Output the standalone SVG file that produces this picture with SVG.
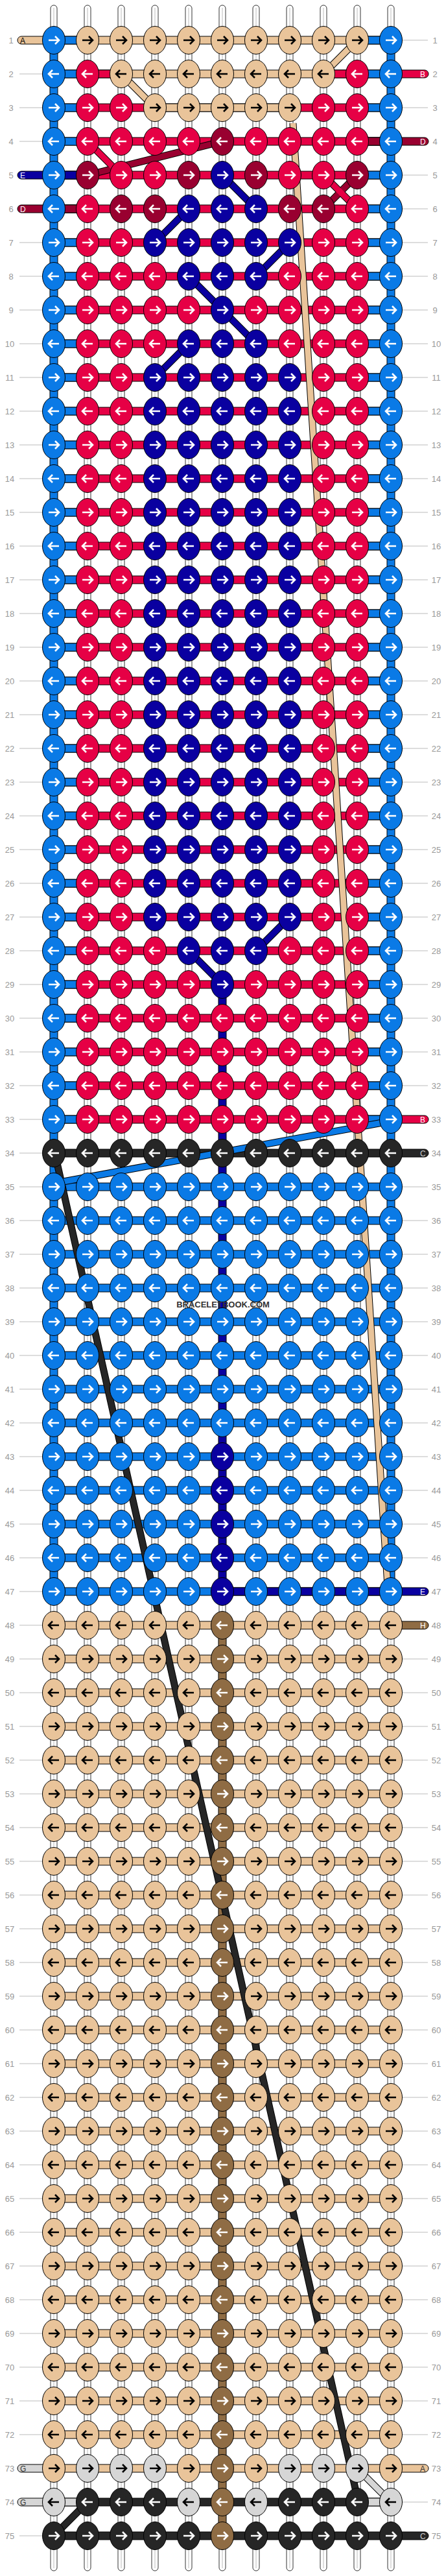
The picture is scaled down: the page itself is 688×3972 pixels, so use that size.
<svg xmlns="http://www.w3.org/2000/svg" xmlns:xlink="http://www.w3.org/1999/xlink" width="688" height="3972" viewBox="0 0 688 3972">
<style>
ellipse{stroke:#000;stroke-width:1}
.bar{stroke:#000;stroke-width:1}
.str{fill:#fff;stroke:#000;stroke-width:.8}
.sl{stroke:#bbb;stroke-width:1}
.num{font-family:"Liberation Sans",Arial,sans-serif;font-size:13px;fill:#999;text-anchor:middle}
.rl{stroke:#bbb;stroke-width:1}
.lt{font-family:"Liberation Sans",Arial,sans-serif;font-size:12px}
.d{fill:none;stroke-linecap:butt}
</style>
<defs>
<path id="ar" d="M-8,0H7M2,-6L8,0L2,6" fill="none" stroke-width="2.6"/>
<path id="al" d="M8,0H-7M-2,-6L-8,0L-2,6" fill="none" stroke-width="2.6"/>
<g id="Br"><ellipse rx="17.5" ry="21.5" fill="#0a7ae6"/><use href="#ar" stroke="#fff"/></g>
<g id="Bl"><ellipse rx="17.5" ry="21.5" fill="#0a7ae6"/><use href="#al" stroke="#fff"/></g>
<g id="Tr"><ellipse rx="17.5" ry="21.5" fill="#e9c49a"/><use href="#ar" stroke="#000"/></g>
<g id="Tl"><ellipse rx="17.5" ry="21.5" fill="#e9c49a"/><use href="#al" stroke="#000"/></g>
<g id="Rr"><ellipse rx="17.5" ry="21.5" fill="#e60045"/><use href="#ar" stroke="#fff"/></g>
<g id="Rl"><ellipse rx="17.5" ry="21.5" fill="#e60045"/><use href="#al" stroke="#fff"/></g>
<g id="Mr"><ellipse rx="17.5" ry="21.5" fill="#990030"/><use href="#ar" stroke="#fff"/></g>
<g id="Ml"><ellipse rx="17.5" ry="21.5" fill="#990030"/><use href="#al" stroke="#fff"/></g>
<g id="Nr"><ellipse rx="17.5" ry="21.5" fill="#0a00a0"/><use href="#ar" stroke="#fff"/></g>
<g id="Nl"><ellipse rx="17.5" ry="21.5" fill="#0a00a0"/><use href="#al" stroke="#fff"/></g>
<g id="Kr"><ellipse rx="17.5" ry="21.5" fill="#262626"/><use href="#ar" stroke="#fff"/></g>
<g id="Kl"><ellipse rx="17.5" ry="21.5" fill="#262626"/><use href="#al" stroke="#fff"/></g>
<g id="Wr"><ellipse rx="17.5" ry="21.5" fill="#8f6c44"/><use href="#ar" stroke="#fff"/></g>
<g id="Wl"><ellipse rx="17.5" ry="21.5" fill="#8f6c44"/><use href="#al" stroke="#fff"/></g>
<g id="Gr"><ellipse rx="17.5" ry="21.5" fill="#d6d6d6"/><use href="#ar" stroke="#000"/></g>
<g id="Gl"><ellipse rx="17.5" ry="21.5" fill="#d6d6d6"/><use href="#al" stroke="#000"/></g>

<g id="o1"><use href="#Br" x="83"/><use href="#Tr" x="135"/><use href="#Tr" x="187"/><use href="#Tr" x="239"/><use href="#Tr" x="291"/><use href="#Tr" x="343"/><use href="#Tr" x="395"/><use href="#Tr" x="447"/><use href="#Tr" x="499"/><use href="#Tr" x="551"/><use href="#Br" x="603"/></g>
<g id="e2"><use href="#Bl" x="83"/><use href="#Rl" x="135"/><use href="#Tl" x="187"/><use href="#Tl" x="239"/><use href="#Tl" x="291"/><use href="#Tl" x="343"/><use href="#Tl" x="395"/><use href="#Tl" x="447"/><use href="#Tl" x="499"/><use href="#Rl" x="551"/><use href="#Bl" x="603"/></g>
<g id="o3"><use href="#Br" x="83"/><use href="#Rr" x="135"/><use href="#Rr" x="187"/><use href="#Tr" x="239"/><use href="#Tr" x="291"/><use href="#Tr" x="343"/><use href="#Tr" x="395"/><use href="#Tr" x="447"/><use href="#Rr" x="499"/><use href="#Rr" x="551"/><use href="#Br" x="603"/></g>
<g id="e4"><use href="#Bl" x="83"/><use href="#Rl" x="135"/><use href="#Rl" x="187"/><use href="#Rl" x="239"/><use href="#Rl" x="291"/><use href="#Ml" x="343"/><use href="#Rl" x="395"/><use href="#Rl" x="447"/><use href="#Rl" x="499"/><use href="#Rl" x="551"/><use href="#Bl" x="603"/></g>
<g id="o5"><use href="#Br" x="83"/><use href="#Mr" x="135"/><use href="#Rr" x="187"/><use href="#Rr" x="239"/><use href="#Mr" x="291"/><use href="#Nr" x="343"/><use href="#Mr" x="395"/><use href="#Rr" x="447"/><use href="#Rr" x="499"/><use href="#Mr" x="551"/><use href="#Br" x="603"/></g>
<g id="e6"><use href="#Bl" x="83"/><use href="#Rl" x="135"/><use href="#Ml" x="187"/><use href="#Ml" x="239"/><use href="#Nl" x="291"/><use href="#Nl" x="343"/><use href="#Nl" x="395"/><use href="#Ml" x="447"/><use href="#Ml" x="499"/><use href="#Rl" x="551"/><use href="#Bl" x="603"/></g>
<g id="P1r"><use href="#Br" x="83"/><use href="#Rr" x="135"/><use href="#Rr" x="187"/><use href="#Nr" x="239"/><use href="#Nr" x="291"/><use href="#Nr" x="343"/><use href="#Nr" x="395"/><use href="#Nr" x="447"/><use href="#Rr" x="499"/><use href="#Rr" x="551"/><use href="#Br" x="603"/></g>
<g id="P1l"><use href="#Bl" x="83"/><use href="#Rl" x="135"/><use href="#Rl" x="187"/><use href="#Nl" x="239"/><use href="#Nl" x="291"/><use href="#Nl" x="343"/><use href="#Nl" x="395"/><use href="#Nl" x="447"/><use href="#Rl" x="499"/><use href="#Rl" x="551"/><use href="#Bl" x="603"/></g>
<g id="P2l"><use href="#Bl" x="83"/><use href="#Rl" x="135"/><use href="#Rl" x="187"/><use href="#Rl" x="239"/><use href="#Nl" x="291"/><use href="#Nl" x="343"/><use href="#Nl" x="395"/><use href="#Rl" x="447"/><use href="#Rl" x="499"/><use href="#Rl" x="551"/><use href="#Bl" x="603"/></g>
<g id="P3r"><use href="#Br" x="83"/><use href="#Rr" x="135"/><use href="#Rr" x="187"/><use href="#Rr" x="239"/><use href="#Rr" x="291"/><use href="#Nr" x="343"/><use href="#Rr" x="395"/><use href="#Rr" x="447"/><use href="#Rr" x="499"/><use href="#Rr" x="551"/><use href="#Br" x="603"/></g>
<g id="RRr"><use href="#Br" x="83"/><use href="#Rr" x="135"/><use href="#Rr" x="187"/><use href="#Rr" x="239"/><use href="#Rr" x="291"/><use href="#Rr" x="343"/><use href="#Rr" x="395"/><use href="#Rr" x="447"/><use href="#Rr" x="499"/><use href="#Rr" x="551"/><use href="#Br" x="603"/></g>
<g id="RRl"><use href="#Bl" x="83"/><use href="#Rl" x="135"/><use href="#Rl" x="187"/><use href="#Rl" x="239"/><use href="#Rl" x="291"/><use href="#Rl" x="343"/><use href="#Rl" x="395"/><use href="#Rl" x="447"/><use href="#Rl" x="499"/><use href="#Rl" x="551"/><use href="#Bl" x="603"/></g>
<g id="KKl"><use href="#Kl" x="83"/><use href="#Kl" x="135"/><use href="#Kl" x="187"/><use href="#Kl" x="239"/><use href="#Kl" x="291"/><use href="#Kl" x="343"/><use href="#Kl" x="395"/><use href="#Kl" x="447"/><use href="#Kl" x="499"/><use href="#Kl" x="551"/><use href="#Kl" x="603"/></g>
<g id="BBr"><use href="#Br" x="83"/><use href="#Br" x="135"/><use href="#Br" x="187"/><use href="#Br" x="239"/><use href="#Br" x="291"/><use href="#Br" x="343"/><use href="#Br" x="395"/><use href="#Br" x="447"/><use href="#Br" x="499"/><use href="#Br" x="551"/><use href="#Br" x="603"/></g>
<g id="BBl"><use href="#Bl" x="83"/><use href="#Bl" x="135"/><use href="#Bl" x="187"/><use href="#Bl" x="239"/><use href="#Bl" x="291"/><use href="#Bl" x="343"/><use href="#Bl" x="395"/><use href="#Bl" x="447"/><use href="#Bl" x="499"/><use href="#Bl" x="551"/><use href="#Bl" x="603"/></g>
<g id="BNr"><use href="#Br" x="83"/><use href="#Br" x="135"/><use href="#Br" x="187"/><use href="#Br" x="239"/><use href="#Br" x="291"/><use href="#Nr" x="343"/><use href="#Br" x="395"/><use href="#Br" x="447"/><use href="#Br" x="499"/><use href="#Br" x="551"/><use href="#Br" x="603"/></g>
<g id="BNl"><use href="#Bl" x="83"/><use href="#Bl" x="135"/><use href="#Bl" x="187"/><use href="#Bl" x="239"/><use href="#Bl" x="291"/><use href="#Nl" x="343"/><use href="#Bl" x="395"/><use href="#Bl" x="447"/><use href="#Bl" x="499"/><use href="#Bl" x="551"/><use href="#Bl" x="603"/></g>
<g id="TWr"><use href="#Tr" x="83"/><use href="#Tr" x="135"/><use href="#Tr" x="187"/><use href="#Tr" x="239"/><use href="#Tr" x="291"/><use href="#Wr" x="343"/><use href="#Tr" x="395"/><use href="#Tr" x="447"/><use href="#Tr" x="499"/><use href="#Tr" x="551"/><use href="#Tr" x="603"/></g>
<g id="TWl"><use href="#Tl" x="83"/><use href="#Tl" x="135"/><use href="#Tl" x="187"/><use href="#Tl" x="239"/><use href="#Tl" x="291"/><use href="#Wl" x="343"/><use href="#Tl" x="395"/><use href="#Tl" x="447"/><use href="#Tl" x="499"/><use href="#Tl" x="551"/><use href="#Tl" x="603"/></g>
<g id="o73"><use href="#Tr" x="83"/><use href="#Gr" x="135"/><use href="#Gr" x="187"/><use href="#Gr" x="239"/><use href="#Tr" x="291"/><use href="#Wr" x="343"/><use href="#Tr" x="395"/><use href="#Gr" x="447"/><use href="#Gr" x="499"/><use href="#Gr" x="551"/><use href="#Tr" x="603"/></g>
<g id="e74"><use href="#Gl" x="83"/><use href="#Kl" x="135"/><use href="#Kl" x="187"/><use href="#Kl" x="239"/><use href="#Gl" x="291"/><use href="#Wl" x="343"/><use href="#Gl" x="395"/><use href="#Kl" x="447"/><use href="#Kl" x="499"/><use href="#Kl" x="551"/><use href="#Gl" x="603"/></g>
<g id="o75"><use href="#Kr" x="83"/><use href="#Kr" x="135"/><use href="#Kr" x="187"/><use href="#Kr" x="239"/><use href="#Kr" x="291"/><use href="#Wr" x="343"/><use href="#Kr" x="395"/><use href="#Kr" x="447"/><use href="#Kr" x="499"/><use href="#Kr" x="551"/><use href="#Kr" x="603"/></g>

<g id="bTB"><rect class="bar" x="83" y="-6" width="520" height="12" fill="#e9c49a"/><rect class="bar" x="83" y="-6" width="52" height="12" fill="#0a7ae6"/><rect class="bar" x="551" y="-6" width="52" height="12" fill="#0a7ae6"/></g>
<g id="bRB"><rect class="bar" x="83" y="-6" width="520" height="12" fill="#e60045"/><rect class="bar" x="83" y="-6" width="52" height="12" fill="#0a7ae6"/><rect class="bar" x="551" y="-6" width="52" height="12" fill="#0a7ae6"/></g>
<rect id="bK" class="bar" x="83" y="-6" width="520" height="12" fill="#262626"/>
<rect id="bB" class="bar" x="83" y="-6" width="520" height="12" fill="#0a7ae6"/>
<rect id="bT" class="bar" x="83" y="-6" width="520" height="12" fill="#e9c49a"/>
</defs>
<rect width="688" height="3972" fill="#fff"/>

<g id="strings">
<rect class="str" x="78" y="8" width="10" height="3956" rx="5"/><rect class="str" x="130" y="8" width="10" height="3956" rx="5"/><rect class="str" x="182" y="8" width="10" height="3956" rx="5"/><rect class="str" x="234" y="8" width="10" height="3956" rx="5"/><rect class="str" x="286" y="8" width="10" height="3956" rx="5"/><rect class="str" x="338" y="8" width="10" height="3956" rx="5"/><rect class="str" x="390" y="8" width="10" height="3956" rx="5"/><rect class="str" x="442" y="8" width="10" height="3956" rx="5"/><rect class="str" x="494" y="8" width="10" height="3956" rx="5"/><rect class="str" x="546" y="8" width="10" height="3956" rx="5"/><rect class="str" x="598" y="8" width="10" height="3956" rx="5"/>
<path class="sl" d="M83,12V3960M135,12V3960M187,12V3960M239,12V3960M291,12V3960M343,12V3960M395,12V3960M447,12V3960M499,12V3960M551,12V3960M603,12V3960"/>
<rect class="bar" x="77" y="62" width="12" height="2392" fill="#0a7ae6"/>
<rect class="bar" x="597" y="62" width="12" height="2392" fill="#0a7ae6"/>
<rect class="bar" x="337" y="1518" width="12" height="936" fill="#0a00a0"/>
<rect class="bar" x="337" y="2506" width="12" height="1404" fill="#8f6c44"/>
</g>

<g id="labels">
<path class="rl" d="M30,62H66M30,114H66M30,166H66M30,218H66M30,374H66M30,426H66M30,478H66M30,530H66M30,582H66M30,634H66M30,686H66M30,738H66M30,790H66M30,842H66M30,894H66M30,946H66M30,998H66M30,1050H66M30,1102H66M30,1154H66M30,1206H66M30,1258H66M30,1310H66M30,1362H66M30,1414H66M30,1466H66M30,1518H66M30,1570H66M30,1622H66M30,1674H66M30,1726H66M30,1778H66M30,1830H66M30,1882H66M30,1934H66M30,1986H66M30,2038H66M30,2090H66M30,2142H66M30,2194H66M30,2246H66M30,2298H66M30,2350H66M30,2402H66M30,2454H66M30,2506H66M30,2558H66M30,2610H66M30,2662H66M30,2714H66M30,2766H66M30,2818H66M30,2870H66M30,2922H66M30,2974H66M30,3026H66M30,3078H66M30,3130H66M30,3182H66M30,3234H66M30,3286H66M30,3338H66M30,3390H66M30,3442H66M30,3494H66M30,3546H66M30,3598H66M30,3650H66M30,3702H66M30,3754H66M30,3910H66"/>
<path class="rl" d="M621,62H660M621,114H660M621,166H660M621,218H660M621,270H660M621,322H660M621,374H660M621,426H660M621,478H660M621,530H660M621,582H660M621,634H660M621,686H660M621,738H660M621,790H660M621,842H660M621,894H660M621,946H660M621,998H660M621,1050H660M621,1102H660M621,1154H660M621,1206H660M621,1258H660M621,1310H660M621,1362H660M621,1414H660M621,1466H660M621,1518H660M621,1570H660M621,1622H660M621,1674H660M621,1726H660M621,1778H660M621,1830H660M621,1882H660M621,1934H660M621,1986H660M621,2038H660M621,2090H660M621,2142H660M621,2194H660M621,2246H660M621,2298H660M621,2350H660M621,2402H660M621,2454H660M621,2506H660M621,2558H660M621,2610H660M621,2662H660M621,2714H660M621,2766H660M621,2818H660M621,2870H660M621,2922H660M621,2974H660M621,3026H660M621,3078H660M621,3130H660M621,3182H660M621,3234H660M621,3286H660M621,3338H660M621,3390H660M621,3442H660M621,3494H660M621,3546H660M621,3598H660M621,3650H660M621,3702H660M621,3754H660M621,3806H660M621,3858H660M621,3910H660"/>
<g class="num">
<text x="17" y="67">1</text><text x="17" y="119">2</text><text x="17" y="171">3</text><text x="17" y="223">4</text><text x="17" y="275">5</text><text x="17" y="327">6</text><text x="17" y="379">7</text><text x="17" y="431">8</text><text x="17" y="483">9</text><text x="15" y="535">10</text><text x="15" y="587">11</text><text x="15" y="639">12</text><text x="15" y="691">13</text><text x="15" y="743">14</text><text x="15" y="795">15</text><text x="15" y="847">16</text><text x="15" y="899">17</text><text x="15" y="951">18</text><text x="15" y="1003">19</text><text x="15" y="1055">20</text><text x="15" y="1107">21</text><text x="15" y="1159">22</text><text x="15" y="1211">23</text><text x="15" y="1263">24</text><text x="15" y="1315">25</text><text x="15" y="1367">26</text><text x="15" y="1419">27</text><text x="15" y="1471">28</text><text x="15" y="1523">29</text><text x="15" y="1575">30</text><text x="15" y="1627">31</text><text x="15" y="1679">32</text><text x="15" y="1731">33</text><text x="15" y="1783">34</text><text x="15" y="1835">35</text><text x="15" y="1887">36</text><text x="15" y="1939">37</text><text x="15" y="1991">38</text><text x="15" y="2043">39</text><text x="15" y="2095">40</text><text x="15" y="2147">41</text><text x="15" y="2199">42</text><text x="15" y="2251">43</text><text x="15" y="2303">44</text><text x="15" y="2355">45</text><text x="15" y="2407">46</text><text x="15" y="2459">47</text><text x="15" y="2511">48</text><text x="15" y="2563">49</text><text x="15" y="2615">50</text><text x="15" y="2667">51</text><text x="15" y="2719">52</text><text x="15" y="2771">53</text><text x="15" y="2823">54</text><text x="15" y="2875">55</text><text x="15" y="2927">56</text><text x="15" y="2979">57</text><text x="15" y="3031">58</text><text x="15" y="3083">59</text><text x="15" y="3135">60</text><text x="15" y="3187">61</text><text x="15" y="3239">62</text><text x="15" y="3291">63</text><text x="15" y="3343">64</text><text x="15" y="3395">65</text><text x="15" y="3447">66</text><text x="15" y="3499">67</text><text x="15" y="3551">68</text><text x="15" y="3603">69</text><text x="15" y="3655">70</text><text x="15" y="3707">71</text><text x="15" y="3759">72</text><text x="15" y="3811">73</text><text x="15" y="3863">74</text><text x="15" y="3915">75</text>
<text x="671" y="67">1</text><text x="671" y="119">2</text><text x="671" y="171">3</text><text x="671" y="223">4</text><text x="671" y="275">5</text><text x="671" y="327">6</text><text x="671" y="379">7</text><text x="671" y="431">8</text><text x="671" y="483">9</text><text x="673" y="535">10</text><text x="673" y="587">11</text><text x="673" y="639">12</text><text x="673" y="691">13</text><text x="673" y="743">14</text><text x="673" y="795">15</text><text x="673" y="847">16</text><text x="673" y="899">17</text><text x="673" y="951">18</text><text x="673" y="1003">19</text><text x="673" y="1055">20</text><text x="673" y="1107">21</text><text x="673" y="1159">22</text><text x="673" y="1211">23</text><text x="673" y="1263">24</text><text x="673" y="1315">25</text><text x="673" y="1367">26</text><text x="673" y="1419">27</text><text x="673" y="1471">28</text><text x="673" y="1523">29</text><text x="673" y="1575">30</text><text x="673" y="1627">31</text><text x="673" y="1679">32</text><text x="673" y="1731">33</text><text x="673" y="1783">34</text><text x="673" y="1835">35</text><text x="673" y="1887">36</text><text x="673" y="1939">37</text><text x="673" y="1991">38</text><text x="673" y="2043">39</text><text x="673" y="2095">40</text><text x="673" y="2147">41</text><text x="673" y="2199">42</text><text x="673" y="2251">43</text><text x="673" y="2303">44</text><text x="673" y="2355">45</text><text x="673" y="2407">46</text><text x="673" y="2459">47</text><text x="673" y="2511">48</text><text x="673" y="2563">49</text><text x="673" y="2615">50</text><text x="673" y="2667">51</text><text x="673" y="2719">52</text><text x="673" y="2771">53</text><text x="673" y="2823">54</text><text x="673" y="2875">55</text><text x="673" y="2927">56</text><text x="673" y="2979">57</text><text x="673" y="3031">58</text><text x="673" y="3083">59</text><text x="673" y="3135">60</text><text x="673" y="3187">61</text><text x="673" y="3239">62</text><text x="673" y="3291">63</text><text x="673" y="3343">64</text><text x="673" y="3395">65</text><text x="673" y="3447">66</text><text x="673" y="3499">67</text><text x="673" y="3551">68</text><text x="673" y="3603">69</text><text x="673" y="3655">70</text><text x="673" y="3707">71</text><text x="673" y="3759">72</text><text x="673" y="3811">73</text><text x="673" y="3863">74</text><text x="673" y="3915">75</text>
</g>
</g>

<g id="bars">
<use href="#bTB" y="62"/>
<use href="#bTB" y="114"/><rect class="bar" x="135" y="108" width="52" height="12" fill="#e60045"/><rect class="bar" x="499" y="108" width="52" height="12" fill="#e60045"/>
<use href="#bRB" y="166"/><rect class="bar" x="239" y="160" width="208" height="12" fill="#e9c49a"/>
<use href="#bRB" y="218"/><rect class="bar" x="551" y="212" width="52" height="12" fill="#990030"/>
<use href="#bRB" y="270"/><rect class="bar" x="83" y="264" width="52" height="12" fill="#0a00a0"/>
<use href="#bRB" y="322"/><rect class="bar" x="83" y="316" width="52" height="12" fill="#990030"/>
<use href="#bRB" y="374"/><use href="#bRB" y="426"/><use href="#bRB" y="478"/><use href="#bRB" y="530"/><use href="#bRB" y="582"/><use href="#bRB" y="634"/><use href="#bRB" y="686"/><use href="#bRB" y="738"/><use href="#bRB" y="790"/><use href="#bRB" y="842"/><use href="#bRB" y="894"/><use href="#bRB" y="946"/><use href="#bRB" y="998"/><use href="#bRB" y="1050"/><use href="#bRB" y="1102"/><use href="#bRB" y="1154"/><use href="#bRB" y="1206"/><use href="#bRB" y="1258"/><use href="#bRB" y="1310"/><use href="#bRB" y="1362"/><use href="#bRB" y="1414"/><use href="#bRB" y="1466"/><use href="#bRB" y="1518"/><use href="#bRB" y="1570"/><use href="#bRB" y="1622"/><use href="#bRB" y="1674"/><use href="#bRB" y="1726"/>
<use href="#bK" y="1778"/>
<use href="#bB" y="1830"/><use href="#bB" y="1882"/><use href="#bB" y="1934"/><use href="#bB" y="1986"/><use href="#bB" y="2038"/><use href="#bB" y="2090"/><use href="#bB" y="2142"/><use href="#bB" y="2194"/><use href="#bB" y="2246"/><use href="#bB" y="2298"/><use href="#bB" y="2350"/><use href="#bB" y="2402"/><use href="#bB" y="2454"/><rect class="bar" x="343" y="2448" width="260" height="12" fill="#0a00a0"/>
<use href="#bT" y="2506"/><use href="#bT" y="2558"/><use href="#bT" y="2610"/><use href="#bT" y="2662"/><use href="#bT" y="2714"/><use href="#bT" y="2766"/><use href="#bT" y="2818"/><use href="#bT" y="2870"/><use href="#bT" y="2922"/><use href="#bT" y="2974"/><use href="#bT" y="3026"/><use href="#bT" y="3078"/><use href="#bT" y="3130"/><use href="#bT" y="3182"/><use href="#bT" y="3234"/><use href="#bT" y="3286"/><use href="#bT" y="3338"/><use href="#bT" y="3390"/><use href="#bT" y="3442"/><use href="#bT" y="3494"/><use href="#bT" y="3546"/><use href="#bT" y="3598"/><use href="#bT" y="3650"/><use href="#bT" y="3702"/><use href="#bT" y="3754"/><use href="#bT" y="3806"/>
<use href="#bK" y="3858"/><rect class="bar" x="83" y="3852" width="52" height="12" fill="#d6d6d6"/><rect class="bar" x="551" y="3852" width="52" height="12" fill="#d6d6d6"/>
<use href="#bK" y="3910"/>
</g>

<g id="stubs" class="lt">
<rect class="bar" x="27" y="56" width="60" height="12" rx="6" fill="#e9c49a"/><text x="31" y="67" fill="#000">A</text>
<rect class="bar" x="27" y="264" width="60" height="12" rx="6" fill="#0a00a0"/><text x="31" y="275" fill="#fff">E</text>
<rect class="bar" x="27" y="316" width="60" height="12" rx="6" fill="#990030"/><text x="31" y="327" fill="#fff">D</text>
<rect class="bar" x="27" y="3800" width="60" height="12" rx="6" fill="#d6d6d6"/><text x="31" y="3811" fill="#333">G</text>
<rect class="bar" x="27" y="3852" width="60" height="12" rx="6" fill="#d6d6d6"/><text x="31" y="3863" fill="#333">G</text>
<rect class="bar" x="600" y="108" width="61" height="12" rx="6" fill="#e60045"/><text x="648" y="119" fill="#fff">B</text>
<rect class="bar" x="600" y="212" width="61" height="12" rx="6" fill="#990030"/><text x="648" y="223" fill="#fff">D</text>
<rect class="bar" x="600" y="1720" width="61" height="12" rx="6" fill="#e60045"/><text x="648" y="1731" fill="#fff">B</text>
<rect class="bar" x="600" y="1772" width="61" height="12" rx="6" fill="#262626"/><text x="648" y="1783" fill="#ccc">C</text>
<rect class="bar" x="600" y="2448" width="61" height="12" rx="6" fill="#0a00a0"/><text x="648" y="2459" fill="#fff">E</text>
<rect class="bar" x="600" y="2500" width="61" height="12" rx="6" fill="#8f6c44"/><text x="648" y="2511" fill="#fff">H</text>
<rect class="bar" x="600" y="3800" width="61" height="12" rx="6" fill="#e9c49a"/><text x="648" y="3811" fill="#333">A</text>
<rect class="bar" x="600" y="3904" width="61" height="12" rx="6" fill="#262626"/><text x="648" y="3915" fill="#ccc">C</text>
</g>

<g id="connectors" class="d">
<path stroke="#000" stroke-width="11" d="M452,190L598,2445M551,62L499,114M187,114L239,166M85,1780L551,3850M83,3910L135,3858M551,3806L603,3858M590,1731L92,1823M343,270L395,322M291,322L239,374M447,374L395,426M291,426L343,478M343,478L395,530M291,530L239,582M447,1414L395,1466M291,1466L343,1518M343,218L135,270M551,270L499,322M135,218L187,270M499,270L551,322"/>
<path stroke="#e9c49a" stroke-width="9" d="M452,190L598,2445M551,62L499,114M187,114L239,166"/>
<path stroke="#262626" stroke-width="9" d="M85,1780L551,3850M83,3910L135,3858"/>
<path stroke="#d6d6d6" stroke-width="9" d="M551,3806L603,3858"/>
<path stroke="#0a7ae6" stroke-width="9" d="M590,1731L92,1823"/>
<path stroke="#0a00a0" stroke-width="9" d="M343,270L395,322M291,322L239,374M447,374L395,426M291,426L343,478M343,478L395,530M291,530L239,582M447,1414L395,1466M291,1466L343,1518"/>
<path stroke="#990030" stroke-width="9" d="M343,218L135,270M551,270L499,322"/>
<path stroke="#e60045" stroke-width="9" d="M135,218L187,270M499,270L551,322"/>
</g>

<g id="knots">
<use id="row1" href="#o1" y="62"/><use id="row2" href="#e2" y="114"/><use id="row3" href="#o3" y="166"/><use id="row4" href="#e4" y="218"/><use id="row5" href="#o5" y="270"/><use id="row6" href="#e6" y="322"/>
<use id="row7" href="#P1r" y="374"/><use id="row8" href="#P2l" y="426"/><use id="row9" href="#P3r" y="478"/><use id="row10" href="#P2l" y="530"/><use id="row11" href="#P1r" y="582"/>
<use id="row12" href="#P1l" y="634"/><use id="row13" href="#P1r" y="686"/><use id="row14" href="#P1l" y="738"/><use id="row15" href="#P1r" y="790"/><use id="row16" href="#P1l" y="842"/><use id="row17" href="#P1r" y="894"/><use id="row18" href="#P1l" y="946"/><use id="row19" href="#P1r" y="998"/><use id="row20" href="#P1l" y="1050"/><use id="row21" href="#P1r" y="1102"/><use id="row22" href="#P1l" y="1154"/><use id="row23" href="#P1r" y="1206"/><use id="row24" href="#P1l" y="1258"/><use id="row25" href="#P1r" y="1310"/><use id="row26" href="#P1l" y="1362"/><use id="row27" href="#P1r" y="1414"/>
<use id="row28" href="#P2l" y="1466"/><use id="row29" href="#P3r" y="1518"/>
<use id="row30" href="#RRl" y="1570"/><use id="row31" href="#RRr" y="1622"/><use id="row32" href="#RRl" y="1674"/><use id="row33" href="#RRr" y="1726"/>
<use id="row34" href="#KKl" y="1778"/>
<use id="row35" href="#BBr" y="1830"/><use id="row36" href="#BBl" y="1882"/><use id="row37" href="#BBr" y="1934"/><use id="row38" href="#BBl" y="1986"/><use id="row39" href="#BBr" y="2038"/><use id="row40" href="#BBl" y="2090"/><use id="row41" href="#BBr" y="2142"/><use id="row42" href="#BBl" y="2194"/>
<use id="row43" href="#BNr" y="2246"/><use id="row44" href="#BNl" y="2298"/><use id="row45" href="#BNr" y="2350"/><use id="row46" href="#BNl" y="2402"/><use id="row47" href="#BNr" y="2454"/>
<use id="row48" href="#TWl" y="2506"/><use id="row49" href="#TWr" y="2558"/><use id="row50" href="#TWl" y="2610"/><use id="row51" href="#TWr" y="2662"/><use id="row52" href="#TWl" y="2714"/><use id="row53" href="#TWr" y="2766"/><use id="row54" href="#TWl" y="2818"/><use id="row55" href="#TWr" y="2870"/><use id="row56" href="#TWl" y="2922"/><use id="row57" href="#TWr" y="2974"/><use id="row58" href="#TWl" y="3026"/><use id="row59" href="#TWr" y="3078"/><use id="row60" href="#TWl" y="3130"/><use id="row61" href="#TWr" y="3182"/><use id="row62" href="#TWl" y="3234"/><use id="row63" href="#TWr" y="3286"/><use id="row64" href="#TWl" y="3338"/><use id="row65" href="#TWr" y="3390"/><use id="row66" href="#TWl" y="3442"/><use id="row67" href="#TWr" y="3494"/><use id="row68" href="#TWl" y="3546"/><use id="row69" href="#TWr" y="3598"/><use id="row70" href="#TWl" y="3650"/><use id="row71" href="#TWr" y="3702"/><use id="row72" href="#TWl" y="3754"/>
<use id="row73" href="#o73" y="3806"/><use id="row74" href="#e74" y="3858"/><use id="row75" href="#o75" y="3910"/>
</g>

<text x="344" y="2016" font-family="'Liberation Sans',Arial,sans-serif" font-size="13" font-weight="bold" fill="#333" text-anchor="middle">BRACELETBOOK.COM</text>
</svg>
